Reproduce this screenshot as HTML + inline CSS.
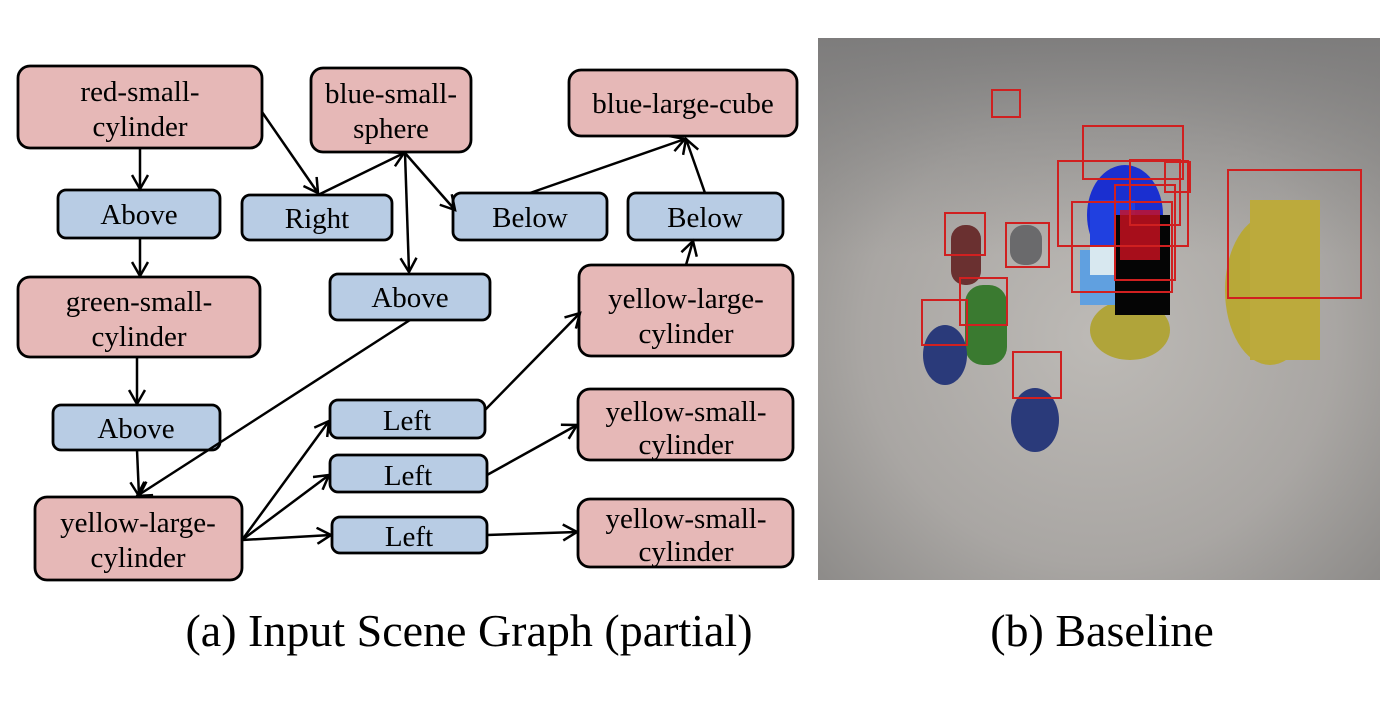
<!DOCTYPE html>
<html><head><style>
body{margin:0;background:#fff;width:1385px;height:720px;overflow:hidden}
</style></head><body>
<svg width="1385" height="720" xmlns="http://www.w3.org/2000/svg" font-family="Liberation Serif, serif">
<defs>
<marker id="a" markerWidth="18" markerHeight="18" refX="15" refY="9" orient="auto" markerUnits="userSpaceOnUse">
<path d="M1,1 L15,9 L1,17" fill="none" stroke="#000" stroke-width="2.5"/></marker>
<radialGradient id="bg" cx="0.5" cy="0.55" r="0.7"><stop offset="0" stop-color="#bdbab6"/><stop offset="0.6" stop-color="#a9a6a3"/><stop offset="1" stop-color="#8a8886"/></radialGradient>
<linearGradient id="tg" x1="0" y1="0" x2="0" y2="1"><stop offset="0" stop-color="#7c7b7b" stop-opacity="0.9"/><stop offset="0.4" stop-color="#8f8e8d" stop-opacity="0"/></linearGradient>
</defs>
<g stroke="#000" stroke-width="2.8">
<g fill="#e6b8b7">
<rect x="18" y="66" width="244" height="82" rx="12"/>
<rect x="311" y="68" width="160" height="84" rx="12"/>
<rect x="569" y="70" width="228" height="66" rx="12"/>
<rect x="18" y="277" width="242" height="80" rx="12"/>
<rect x="579" y="265" width="214" height="91" rx="12"/>
<rect x="578" y="389" width="215" height="71" rx="12"/>
<rect x="578" y="499" width="215" height="68" rx="12"/>
<rect x="35" y="497" width="207" height="83" rx="12"/>
</g>
<g fill="#b8cce4">
<rect x="58" y="190" width="162" height="48" rx="8"/>
<rect x="242" y="195" width="150" height="45" rx="8"/>
<rect x="453" y="193" width="154" height="47" rx="8"/>
<rect x="628" y="193" width="155" height="47" rx="8"/>
<rect x="330" y="274" width="160" height="46" rx="8"/>
<rect x="53" y="405" width="167" height="45" rx="8"/>
<rect x="330" y="400" width="155" height="38" rx="8"/>
<rect x="330" y="455" width="157" height="37" rx="8"/>
<rect x="332" y="517" width="155" height="36" rx="8"/>
</g>
</g>
<g stroke="#000" stroke-width="2.5" fill="none" marker-end="url(#a)">
<line x1="140" y1="148" x2="140" y2="189"/>
<line x1="140" y1="238" x2="140" y2="276"/>
<line x1="137" y1="357" x2="137" y2="404"/>
<line x1="137" y1="450" x2="139" y2="496"/>
<line x1="262" y1="112" x2="318" y2="193"/>
<line x1="318" y1="195" x2="404" y2="153"/>
<line x1="405" y1="153" x2="455" y2="210"/>
<line x1="405" y1="153" x2="409" y2="272"/>
<line x1="530" y1="193" x2="685" y2="139"/>
<line x1="705" y1="193" x2="686" y2="139"/>
<line x1="410" y1="320" x2="137" y2="496"/>
<line x1="242" y1="540" x2="329" y2="421"/>
<line x1="242" y1="540" x2="329" y2="475"/>
<line x1="242" y1="540" x2="331" y2="535"/>
<line x1="485" y1="410" x2="580" y2="313"/>
<line x1="487" y1="475" x2="577" y2="425"/>
<line x1="487" y1="535" x2="577" y2="532"/>
<line x1="686" y1="265" x2="693" y2="241"/>
</g>
<g font-size="29" text-anchor="middle" fill="#000">
<text x="140" y="101">red-small-</text><text x="140" y="136">cylinder</text>
<text x="391" y="103">blue-small-</text><text x="391" y="138">sphere</text>
<text x="683" y="113">blue-large-cube</text>
<text x="139" y="311">green-small-</text><text x="139" y="346">cylinder</text>
<text x="686" y="308">yellow-large-</text><text x="686" y="343">cylinder</text>
<text x="686" y="421">yellow-small-</text><text x="686" y="454">cylinder</text>
<text x="686" y="528">yellow-small-</text><text x="686" y="561">cylinder</text>
<text x="138" y="532">yellow-large-</text><text x="138" y="567">cylinder</text>
<text x="139" y="224">Above</text>
<text x="317" y="228">Right</text>
<text x="530" y="227">Below</text>
<text x="705" y="227">Below</text>
<text x="410" y="307">Above</text>
<text x="136" y="438">Above</text>
<text x="407" y="430">Left</text>
<text x="408" y="485">Left</text>
<text x="409" y="546">Left</text>
</g>
<g font-size="46" text-anchor="middle">
<text x="469" y="646">(a) Input Scene Graph (partial)</text>
<text x="1102" y="646">(b) Baseline</text>
</g>
<rect x="818" y="38" width="562" height="542" fill="url(#bg)"/>
<rect x="818" y="38" width="562" height="542" fill="url(#tg)"/>
<g>
<ellipse cx="1270" cy="290" rx="45" ry="75" fill="#b8a838"/>
<rect x="1250" y="200" width="70" height="160" fill="#bcaa3c"/>
<ellipse cx="1130" cy="330" rx="40" ry="30" fill="#b0a43a"/>
<ellipse cx="1125" cy="215" rx="38" ry="50" fill="#1a2fd0"/>
<rect x="1090" y="200" width="45" height="80" fill="#2040e0"/>
<rect x="1115" y="215" width="55" height="100" fill="#050505"/>
<rect x="1080" y="250" width="35" height="55" fill="#60a0e0"/>
<rect x="1090" y="245" width="25" height="30" fill="#d8e8f0"/>
<rect x="1120" y="210" width="40" height="50" fill="#d01020" opacity="0.8"/>
<rect x="951" y="225" width="30" height="60" rx="14" fill="#6a3030"/>
<rect x="1010" y="225" width="32" height="40" rx="14" fill="#6a6a6c"/>
<rect x="965" y="285" width="42" height="80" rx="18" fill="#3a7a30"/>
<ellipse cx="945" cy="355" rx="22" ry="30" fill="#2a3a7a"/>
<ellipse cx="1035" cy="420" rx="24" ry="32" fill="#2a3a7a"/>
</g>
<g fill="none" stroke="#d02020" stroke-width="2">
<rect x="992" y="90" width="28" height="27"/>
<rect x="1083" y="126" width="100" height="53"/>
<rect x="1058" y="161" width="130" height="85"/>
<rect x="1072" y="202" width="100" height="90"/>
<rect x="1228" y="170" width="133" height="128"/>
<rect x="945" y="213" width="40" height="42"/>
<rect x="1006" y="223" width="43" height="44"/>
<rect x="960" y="278" width="47" height="47"/>
<rect x="922" y="300" width="45" height="45"/>
<rect x="1013" y="352" width="48" height="46"/>
<rect x="1130" y="160" width="50" height="65"/>
<rect x="1115" y="185" width="60" height="95"/>
<rect x="1165" y="162" width="25" height="30"/>
</g>
</svg>
</body></html>
